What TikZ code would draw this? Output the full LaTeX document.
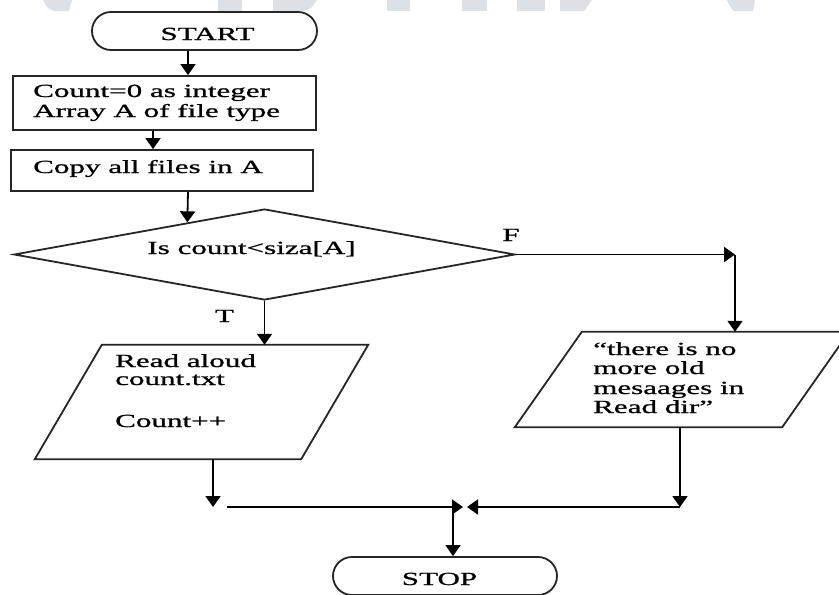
\documentclass[tikz,border=0pt]{standalone}
\usepackage{fontspec}
\setmainfont{Liberation Serif}[FakeStretch=1.68,FakeBold=1]
\usetikzlibrary{shapes.geometric,shapes.misc,arrows.meta,calc}
\definecolor{wmgray}{HTML}{DDE1E5}
\begin{document}
\begin{tikzpicture}[
  x=1pt, y=-1pt,
  font=\fontsize{18.5}{20}\selectfont,
  outline/.style={draw=black!85, line width=1.8pt, inner sep=0pt},
  terminal/.style={outline, rounded rectangle, minimum height=38pt},
  process/.style={outline, rectangle},
  decision/.style={outline, diamond},
  iobox/.style={inner sep=0pt, rectangle},
  slanted/.style={outline, line join=miter},
  txt/.style={inner sep=0pt, anchor=base west},
  ctxt/.style={inner sep=0pt, anchor=base},
  arr/.style={line width=1.8pt, -{Triangle[width=15pt,length=11pt]}},
  wm/.style={fill=wmgray, draw=none},
]
\useasboundingbox (0,0) rectangle (839,595);

% faint lettering along the top edge
\fill[wm] (43,0) -- (72,0) -- (69,11) -- (54,11) .. controls (47,8) .. (43,0) -- cycle;
\fill[wm] (218,0) rectangle (242,11);
\fill[wm] (273,0) rectangle (295,11);
\fill[wm] (295,0) -- (317,0) .. controls (312,8) .. (303,11) -- (295,11) -- cycle;
\fill[wm] (387,0) rectangle (410,11);
\fill[wm] (462,0) rectangle (487,11);
\fill[wm] (517,0) rectangle (545,11);
\fill[wm] (560,0) -- (592,0) -- (584,11) -- (560,11) -- cycle;
\fill[wm] (727,0) -- (755,0) -- (753,11) -- (734,11) .. controls (730,7) .. (727,0) -- cycle;

% flowchart shapes
\node[terminal, minimum width=225pt] (start) at (204.5,31) {};
\node[process, minimum width=303pt, minimum height=54pt] (box1) at (164.5,103) {};
\node[process, minimum width=302pt, minimum height=41pt] (box2) at (162,170.5) {};
\node[decision, minimum width=501pt, minimum height=91pt] (dia) at (264.5,254.5) {};
\node[iobox, minimum width=333pt, minimum height=114pt] (lp) at (201.5,402) {};
\node[iobox, minimum width=334pt, minimum height=95pt] (rp) at (682,379.5) {};
\node[terminal, minimum width=224pt] (stop) at (445,576) {};

% input/output parallelograms, top edge shifted right by 67
\draw[slanted] ([xshift=67pt]lp.north west) -- (lp.north east)
  -- ([xshift=-67pt]lp.south east) -- (lp.south west) -- cycle;
\draw[slanted] ([xshift=67pt]rp.north west) -- (rp.north east)
  -- ([xshift=-67pt]rp.south east) -- (rp.south west) -- cycle;

% texts
\node[ctxt] (tstart) at (207.5,40) {START};
\node[txt] (tb1a) at (33,97) {Count=0 as integer};
\node[txt] (tb1b) at (33,117) {Array A of file type};
\node[txt] (tb2) at (33,173) {Copy all files in A};
\node[ctxt] (tdia) at (251.5,254) {Is count<siza[A]};
\node[ctxt] (tT) at (224.5,322) {T};
\node[ctxt] (tF) at (511,241) {F};
\node[txt] (tlp1) at (115,367) {Read aloud};
\node[txt] (tlp2) at (115,385) {count.txt};
\node[txt] (tlp3) at (115,427) {Count++};
\node[txt] (trp1) at (593,355) {“there is no};
\node[txt] (trp2) at (593,374) {more old};
\node[txt] (trp3) at (593,394) {mesaages in};
\node[txt] (trp4) at (593,413) {Read dir”};
\node[ctxt] (tstop) at (439.5,585) {STOP};

% connector guide positions
\coordinate (xA) at (188,0);
\coordinate (xB) at (153,0);
\coordinate (xF) at (735,0);
\coordinate (xL) at (213,0);
\coordinate (xR) at (680,0);
\coordinate (xS) at (453,0);
\coordinate (hL) at (227,507);
\coordinate (hM1) at (463,507);
\coordinate (hM2) at (467,507);

% connectors
\draw[arr] (start.south -| xA) -- (box1.north -| xA);
\draw[arr] (box1.south -| xB) -- (box2.north -| xB);
\draw[arr] (box2.south -| xA) -- ($(dia.west)!0.693!(dia.north)$);
\draw[arr] (dia.south) -- (dia.south |- lp.north);
\draw[arr] (dia.east) -- (dia.east -| xF);
\draw[arr] (dia.east -| xF) -- (xF |- rp.north);
\draw[arr] (lp.south -| xL) -- (xL |- hL);
\draw[arr] (hL) -- (hM1);
\draw[arr] (rp.south -| xR) -- (xR |- hL);
\draw[arr] (xR |- hL) -- (hM2);
\draw[arr] (xS |- hL) -- (stop.north -| xS);
\end{tikzpicture}
\end{document}
